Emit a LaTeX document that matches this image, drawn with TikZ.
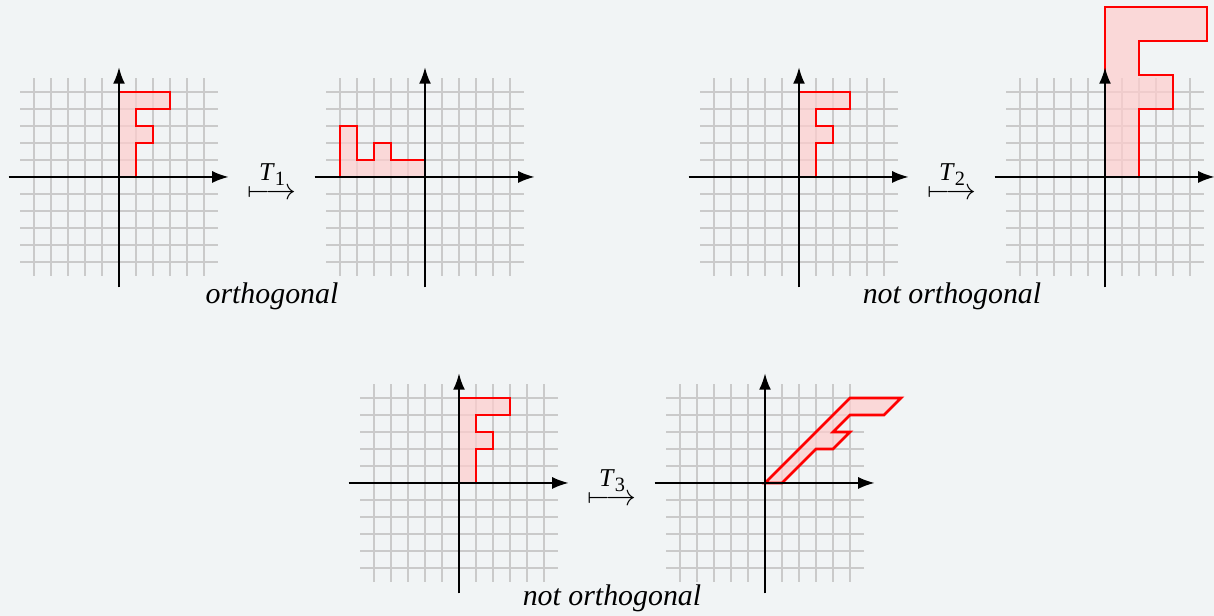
\documentclass[tikz,border=0pt]{standalone}
\usepackage{amsmath}
\usepackage{fontspec}
\setmainfont{Liberation Serif}
\usetikzlibrary{arrows.meta}
\definecolor{bg}{RGB}{241,244,245}
\definecolor{gridc}{RGB}{202,202,202}
\definecolor{fpink}{RGB}{255,205,205}
\tikzset{
  gridline/.style={gridc, line width=0.55pt, step=1},
  axisline/.style={black, line width=0.6pt, -{Latex[length=5.5pt,width=4pt]}},
  fshape/.style={red, line width=0.9pt, fill=fpink, fill opacity=0.7, line join=miter},
  caption/.style={font=\itshape, anchor=base, inner sep=0pt},
  maplabel/.style={inner sep=0pt},
}
\newcommand{\mygrid}{\draw[gridline] (-5.8,-5.8) grid (5.8,5.8);}
\newcommand{\myaxes}{%
  \draw[axisline] (-6.5,0) -- (6.45,0);
  \draw[axisline] (0,-6.5) -- (0,6.45);}
\newcommand{\maptext}[1]{$\overset{\text{\fontsize{8.6}{10}\selectfont\textit{T}\raisebox{-0.45ex}{\fontsize{6.8}{8}\selectfont #1}}}{\longmapsto}$}
\begin{document}
\begin{tikzpicture}[x=0.2cm,y=0.2cm]
\fill[bg] (0,0) rectangle (71.412,-36.235);
\useasboundingbox (0,0) rectangle (71.412,-36.235);

% ---- plot 1: original
\begin{scope}[shift={(7,-10.41)}]
  \mygrid
  \draw[fshape] (0,0) -- (0,5) -- (3,5) -- (3,4) -- (1,4) -- (1,3) -- (2,3) -- (2,2) -- (1,2) -- (1,0) -- cycle;
  \myaxes
\end{scope}
% ---- plot 2: rotation
\begin{scope}[shift={(25,-10.41)}]
  \mygrid
  \draw[fshape] (0,0) -- (-5,0) -- (-5,3) -- (-4,3) -- (-4,1) -- (-3,1) -- (-3,2) -- (-2,2) -- (-2,1) -- (0,1) -- cycle;
  \myaxes
\end{scope}
\node[maplabel] (map1) at (16,-10.6) {\maptext{1}};
\node[caption] (cap1) at (16,-17.84) {orthogonal};

% ---- plot 3: original
\begin{scope}[shift={(47,-10.41)}]
  \mygrid
  \draw[fshape] (0,0) -- (0,5) -- (3,5) -- (3,4) -- (1,4) -- (1,3) -- (2,3) -- (2,2) -- (1,2) -- (1,0) -- cycle;
  \myaxes
\end{scope}
% ---- plot 4: scaling by 2
\begin{scope}[shift={(65,-10.41)}]
  \mygrid
  \draw[fshape] (0,0) -- (0,10) -- (6,10) -- (6,8) -- (2,8) -- (2,6) -- (4,6) -- (4,4) -- (2,4) -- (2,0) -- cycle;
  \myaxes
\end{scope}
\node[maplabel] (map2) at (56,-10.6) {\maptext{2}};
\node[caption] (cap2) at (56,-17.84) {not orthogonal};

% ---- plot 5: original
\begin{scope}[shift={(27,-28.41)}]
  \mygrid
  \draw[fshape] (0,0) -- (0,5) -- (3,5) -- (3,4) -- (1,4) -- (1,3) -- (2,3) -- (2,2) -- (1,2) -- (1,0) -- cycle;
  \myaxes
\end{scope}
% ---- plot 6: shear
\begin{scope}[shift={(45,-28.41)}]
  \mygrid
  \draw[fshape] (0,0) -- (5,5) -- (8,5) -- (7,4) -- (5,4) -- (4,3) -- (5,3) -- (4,2) -- (3,2) -- (1,0) -- cycle;
  \myaxes
\end{scope}
\node[maplabel] (map3) at (36,-28.6) {\maptext{3}};
\node[caption] (cap3) at (36,-35.63) {not orthogonal};
\end{tikzpicture}
\end{document}
